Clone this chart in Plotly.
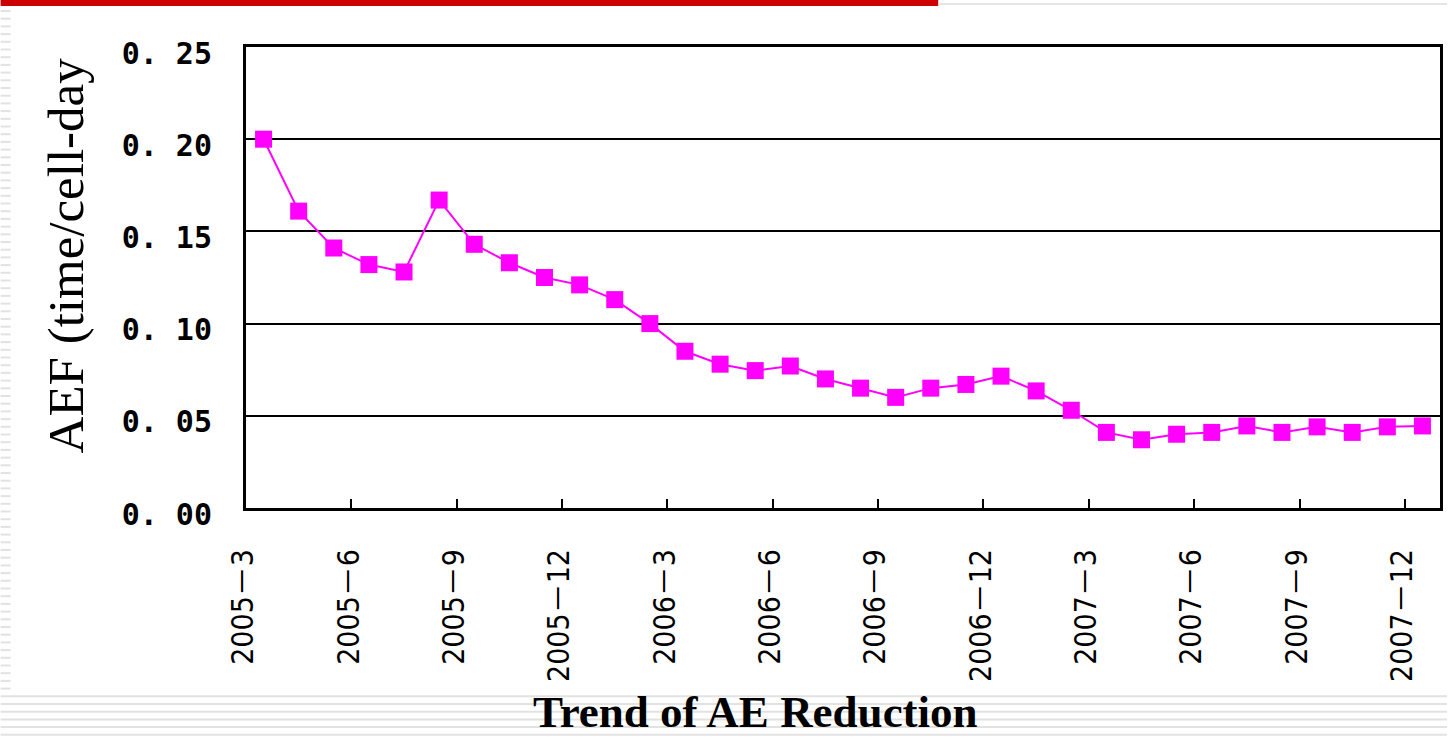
import plotly.graph_objects as go

# Monthly AEF values, March 2005 to December 2007
months = [
    "2005－3", "2005－4", "2005－5", "2005－6", "2005－7", "2005－8", "2005－9",
    "2005－10", "2005－11", "2005－12", "2006－1", "2006－2", "2006－3", "2006－4",
    "2006－5", "2006－6", "2006－7", "2006－8", "2006－9", "2006－10", "2006－11",
    "2006－12", "2007－1", "2007－2", "2007－3", "2007－4", "2007－5", "2007－6",
    "2007－7", "2007－8", "2007－9", "2007－10", "2007－11", "2007－12",
]
aef = [
    0.200, 0.161, 0.141, 0.132, 0.128, 0.167, 0.143, 0.133, 0.125, 0.121,
    0.113, 0.100, 0.085, 0.078, 0.0745, 0.077, 0.070, 0.065, 0.060, 0.065,
    0.067, 0.0715, 0.0635, 0.053, 0.041, 0.037, 0.040, 0.041, 0.0445, 0.041,
    0.044, 0.041, 0.044, 0.0445,
]
tick_labels = months[::3]
y_ticks = [0.0, 0.05, 0.10, 0.15, 0.20, 0.25]
y_tick_text = ["0. 00", "0. 05", "0. 10", "0. 15", "0. 20", "0. 25"]

W, H = 1450, 739
L, R, T, B = 246, 7, 47, 231
pw, ph = W - L - R, H - T - B


def px(x):
    return (x - L) / pw


def py(y):
    return (H - B - y) / ph


fig = go.Figure()
fig.add_trace(go.Scatter(
    x=months, y=aef, mode="lines+markers",
    line=dict(color="#FF00FF", width=2),
    marker=dict(symbol="square", size=17, color="#FF00FF"),
    showlegend=False,
))

# slide decoration: red bar, grey rule, striped border
shapes = [
    dict(type="rect", xref="paper", yref="paper", x0=px(0), x1=px(940),
         y0=py(6), y1=py(0), fillcolor="#CC0000", line_width=0, layer="below"),
    dict(type="rect", xref="paper", yref="paper", x0=px(940), x1=px(W),
         y0=py(5), y1=py(3), fillcolor="#E4E4E4", line_width=0, layer="below"),
]
y = 10.0
while y < H:
    x1 = 10 if y < 695 else W
    shapes.append(dict(type="rect", xref="paper", yref="paper", x0=px(0), x1=px(x1),
                       y0=py(y + 2), y1=py(y), fillcolor="#E2E2E2", line_width=0,
                       layer="below"))
    y += 7.7

fig.update_layout(
    width=W, height=H,
    margin=dict(l=L, r=R, t=T, b=B),
    paper_bgcolor="white", plot_bgcolor="white",
    shapes=shapes,
)
# chart caption under the axis labels
fig.add_annotation(
    text="<b>Trend of AE Reduction</b>", showarrow=False,
    xref="paper", yref="paper", x=px(757), y=py(712),
    xanchor="center", yanchor="middle",
    font=dict(family="Liberation Serif", size=45, color="black"),
)
# y-axis title sits above the plot's centre in the reference, so place it directly
fig.add_annotation(
    text="AEF (time/cell-day", textangle=-90, showarrow=False,
    xref="paper", yref="paper", x=px(66), y=py(255),
    xanchor="center", yanchor="middle",
    font=dict(family="Liberation Serif", size=51, color="black"),
)
fig.update_xaxes(
    type="category", range=[-0.5, len(months) - 0.5],
    tickvals=tick_labels, ticktext=tick_labels,
    tickangle=-90, tickson="boundaries",
    ticks="inside", ticklen=9, tickwidth=2, tickcolor="black",
    ticklabelstandoff=26, ticklabelshift=-20,
    tickfont=dict(family="Liberation Sans Narrow, DejaVu Sans Condensed, Noto Sans CJK SC",
                  size=30, color="black"),
    showline=True, linewidth=3, linecolor="black", mirror=True,
    showgrid=False, zeroline=False,
)
fig.update_yaxes(
    range=[0, 0.25], tickvals=y_ticks, ticktext=y_tick_text,
    tickfont=dict(family="DejaVu Sans Mono", size=30, color="black", weight="bold"),
    ticklabelstandoff=25, ticklabelshift=6,
    showline=True, linewidth=3, linecolor="black", mirror=True,
    showgrid=True, gridcolor="black", gridwidth=2, zeroline=False,
)

fig.write_html("out.html", config={"displayModeBar": False},
               post_script="document.body.style.margin = '0';")
